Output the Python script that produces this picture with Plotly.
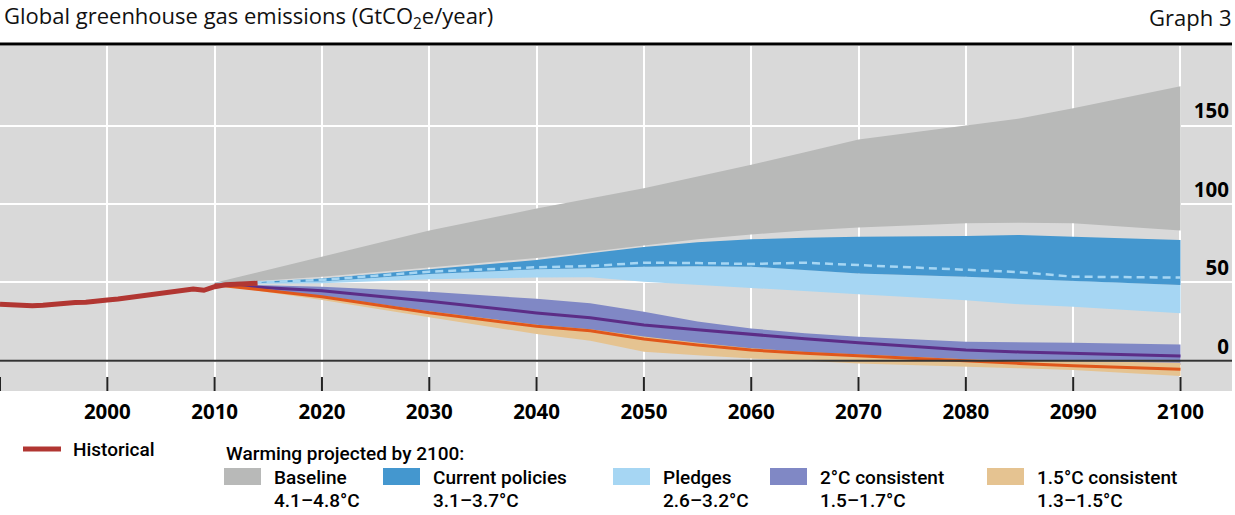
import plotly.graph_objects as go

# ---------------- data ----------------
hist_years = list(range(1990, 2015))
historical = [36.0, 35.6, 35.1, 35.0, 35.4, 36.2, 36.8, 37.2, 37.3, 37.6, 38.7, 39.3, 40.2,
              41.4, 42.6, 43.6, 44.6, 45.5, 45.8, 44.9, 47.2, 48.4, 48.9, 49.2, 49.4]

proj_years = [2010, 2020, 2030, 2040, 2045, 2050, 2055, 2060, 2065, 2070, 2080, 2085, 2090, 2100]

baseline_hi = [49.7, 66.3, 83.0, 97.0, 103.5, 110.0, 117.5, 125.0, 133.0, 141.0, 150.0, 154.5, 161.0, 175.0]
baseline_lo = [49.0, 53.5, 59.5, 65.5, 69.5, 73.5, 77.5, 80.5, 83.0, 85.0, 87.6, 88.0, 87.6, 83.0]

current_hi = [49.0, 52.5, 58.3, 64.2, 68.5, 72.5, 75.5, 77.4, 78.5, 79.0, 79.5, 80.2, 79.1, 77.0]
current_lo = [49.0, 50.5, 55.3, 58.3, 59.0, 60.0, 60.3, 60.0, 58.0, 55.7, 53.5, 52.5, 51.0, 48.3]
current_mid = [49.0, 51.5, 56.8, 59.6, 60.4, 62.5, 62.3, 61.7, 62.5, 61.0, 57.8, 56.5, 53.6, 53.0]

pledges_hi = [49.0, 50.5, 55.3, 58.3, 59.0, 60.0, 60.3, 60.0, 58.0, 55.7, 53.5, 52.5, 51.0, 48.3]
pledges_lo = [49.0, 49.4, 52.0, 53.0, 53.2, 50.4, 48.3, 46.2, 44.5, 42.4, 38.5, 36.0, 34.4, 30.2]

two_hi = [49.0, 47.2, 44.0, 39.5, 36.6, 31.3, 25.0, 20.6, 17.5, 15.3, 12.1, 11.8, 11.5, 10.4]
two_mid = [48.5, 44.6, 38.0, 30.5, 27.4, 22.8, 19.7, 16.8, 14.0, 11.5, 6.8, 5.6, 4.7, 3.0]
two_lo = [48.5, 40.0, 29.5, 21.0, 18.0, 13.0, 9.0, 6.0, 4.0, 2.5, -0.5, -1.0, -1.5, -2.7]

one5_hi = [48.5, 41.5, 31.5, 23.0, 20.0, 15.5, 11.5, 8.0, 5.5, 4.0, 1.0, 0.3, -0.3, -1.3]
one5_mid = [48.5, 40.8, 30.6, 22.0, 19.1, 13.8, 10.0, 6.8, 4.7, 3.0, -0.3, -1.7, -3.2, -5.5]
one5_lo = [48.5, 38.7, 27.7, 17.0, 12.8, 5.8, 3.5, 1.5, 0.0, -1.7, -3.8, -4.8, -5.9, -9.8]

tick_years = list(range(1990, 2101, 10))
x_tickvals = list(range(2000, 2101, 10))
x_ticktext = [str(y) for y in x_tickvals]
y_tickvals = [0, 50, 100, 150]
y_ticktext = ["0", "50", "100", "150"]

band_names = ["Baseline", "Current policies", "Pledges", "2°C consistent", "1.5°C consistent"]
band_ranges = ["4.1–4.8°C", "3.1–3.7°C", "2.6–3.2°C", "1.5–1.7°C", "1.3–1.5°C"]
band_colors = ["#b8b9b8", "#4497cf", "#a6d6f3", "#8088c5", "#e5c391"]
band_hi = [baseline_hi, current_hi, pledges_hi, two_hi, one5_hi]
band_lo = [baseline_lo, current_lo, pledges_lo, two_lo, one5_lo]

title_text = "Global greenhouse gas emissions (GtCO<sub>2</sub>e/year)"
graph_label = "Graph 3"
legend_heading = "Warming projected by 2100:"
hist_name = "Historical"

# ---------------- geometry helpers (pixels -> paper) ----------------
W, H = 1235, 515
ML, MR, MT, MB = 0, 3, 46, 124
PW, PH = W - ML - MR, H - MT - MB


def px(x):
    return (x - ML) / PW


def py(y):
    return (H - MB - y) / PH


fig = go.Figure()

# bands (draw order: baseline, pledges, current policies, 2°C, 1.5°C)
order = [0, 2, 1, 3, 4]
for i in order:
    fig.add_trace(go.Scatter(
        x=proj_years + proj_years[::-1],
        y=band_hi[i] + band_lo[i][::-1],
        fill="toself", fillcolor=band_colors[i],
        line=dict(width=0), mode="lines",
        name=band_names[i], showlegend=False, hoverinfo="skip"))

fig.add_trace(go.Scatter(x=proj_years, y=current_mid, mode="lines",
                         line=dict(color="#a6d6f3", width=2.5, dash="8px,5px"),
                         showlegend=False, hoverinfo="skip"))
fig.add_trace(go.Scatter(x=proj_years, y=two_mid, mode="lines",
                         line=dict(color="#5c2d87", width=3),
                         showlegend=False, hoverinfo="skip"))
fig.add_trace(go.Scatter(x=proj_years, y=one5_mid, mode="lines",
                         line=dict(color="#e0571b", width=3),
                         showlegend=False, hoverinfo="skip"))
fig.add_trace(go.Scatter(x=hist_years, y=historical, mode="lines",
                         line=dict(color="#b13632", width=5),
                         name=hist_name, showlegend=False, hoverinfo="skip"))

shapes = []
annotations = []

# zero line
shapes.append(dict(type="line", xref="paper", x0=0, x1=1, yref="y", y0=0, y1=0,
                   line=dict(color="#333333", width=2), layer="above"))
# decade ticks along the bottom of the plot
for yr in tick_years:
    shapes.append(dict(type="line", xref="x", x0=yr, x1=yr, yref="paper",
                       y0=0, y1=14 / PH, line=dict(color="#222222", width=2), layer="above"))
# rule under title
shapes.append(dict(type="line", xref="paper", x0=0, x1=1, yref="paper",
                   y0=py(44), y1=py(44), line=dict(color="black", width=3)))

title_font = dict(family="Open Sans, sans-serif", size=22, color="#111111")
annotations.append(dict(text=title_text, xref="paper", yref="paper", x=px(2), y=py(17),
                        xanchor="left", yanchor="middle", showarrow=False, font=title_font))
annotations.append(dict(text=graph_label, xref="paper", yref="paper", x=px(1233), y=py(17),
                        xanchor="right", yanchor="middle", showarrow=False, font=title_font))

leg_font = dict(family="Roboto, sans-serif", size=19, color="black", weight=500)

# historical legend
shapes.append(dict(type="line", xref="paper", yref="paper", x0=px(23), x1=px(61),
                   y0=py(449), y1=py(449), line=dict(color="#b13632", width=5)))
annotations.append(dict(text=hist_name, xref="paper", yref="paper", x=px(71), y=py(449),
                        xanchor="left", yanchor="middle", showarrow=False, font=leg_font))
annotations.append(dict(text=legend_heading, xref="paper", yref="paper", x=px(224), y=py(453),
                        xanchor="left", yanchor="middle", showarrow=False, font=leg_font))

swatch_x = [224, 383, 613, 770, 987]
for i in range(5):
    x0 = swatch_x[i]
    shapes.append(dict(type="rect", xref="paper", yref="paper", x0=px(x0), x1=px(x0 + 37),
                       y0=py(485), y1=py(468), fillcolor=band_colors[i], line=dict(width=0)))
    annotations.append(dict(text=band_names[i], xref="paper", yref="paper", x=px(x0 + 48),
                            y=py(478), xanchor="left", yanchor="middle", showarrow=False,
                            font=leg_font))
    annotations.append(dict(text=band_ranges[i], xref="paper", yref="paper", x=px(x0 + 48),
                            y=py(500), xanchor="left", yanchor="middle", showarrow=False,
                            font=leg_font))

tick_font = dict(family="Open Sans, sans-serif", size=20.5, color="black", weight=700)

fig.update_layout(
    width=W, height=H,
    margin=dict(l=ML, r=MR, t=MT, b=MB, pad=0),
    paper_bgcolor="white", plot_bgcolor="#d9d9d9",
    showlegend=False,
    shapes=shapes, annotations=annotations,
    xaxis=dict(range=[1990, 2104.8], tickvals=x_tickvals, ticktext=x_ticktext,
               showgrid=True, gridcolor="white", gridwidth=2,
               ticks="", tickfont=tick_font, ticklabelstandoff=6,
               zeroline=False, showline=False, fixedrange=True),
    yaxis=dict(range=[-19.3, 200.7], tickvals=y_tickvals, ticktext=y_ticktext,
               side="right", ticklabelposition="inside top",
               showgrid=True, gridcolor="white", gridwidth=2,
               ticks="", tickfont=tick_font, zeroline=False, showline=False,
               fixedrange=True),
)

fig.write_html("out.html", config={"displayModeBar": False},
               post_script="document.body.style.margin='0';")
